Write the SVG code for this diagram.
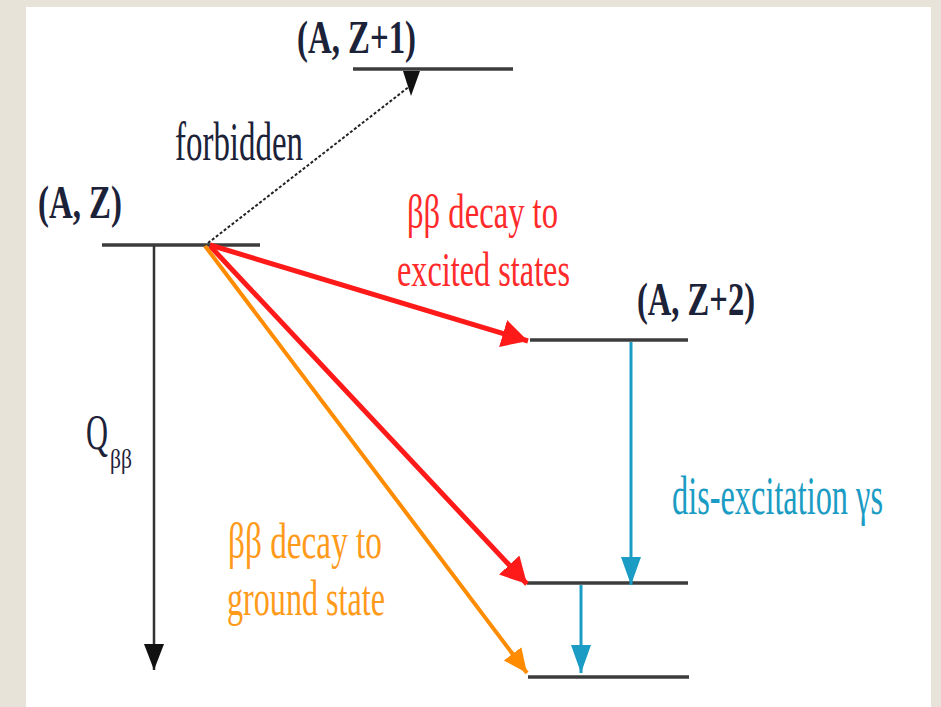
<svg xmlns="http://www.w3.org/2000/svg" width="941" height="707" viewBox="0 0 941 707">
<style>
.t{font-family:"Liberation Serif","Times New Roman",serif}
.b{font-weight:bold;fill:#1c2238}
.lvl{stroke:#3c3c3c;stroke-width:3.5;fill:none}
</style>
<defs>
<marker id="mr" markerUnits="userSpaceOnUse" markerWidth="32" markerHeight="32" refX="26" refY="14" orient="auto"><path d="M0,0 L26,14 L0,28 Z" fill="#ff1a1a"/></marker>
<marker id="mo" markerUnits="userSpaceOnUse" markerWidth="30" markerHeight="30" refX="24" refY="11" orient="auto"><path d="M0,0 L24,11 L0,22 Z" fill="#ff8c00"/></marker>
<marker id="mb" markerUnits="userSpaceOnUse" markerWidth="30" markerHeight="30" refX="28" refY="10" orient="auto"><path d="M0,0 L28,10 L0,20 Z" fill="#1a9cc4"/></marker>
<marker id="mk" markerUnits="userSpaceOnUse" markerWidth="30" markerHeight="30" refX="26" refY="10" orient="auto"><path d="M0,0 L26,10 L0,20 Z" fill="#111"/></marker>
</defs>
<rect x="0" y="0" width="941" height="707" fill="#e7e3d8"/>
<rect x="26" y="7" width="905" height="700" fill="#ffffff"/>
<g id="level-AZ1"><line class="lvl" x1="353" y1="69" x2="513" y2="69"/><text class="t b" x="297" y="53" font-size="46" textLength="119" lengthAdjust="spacingAndGlyphs">(A, Z+1)</text></g>
<g id="level-AZ"><line class="lvl" x1="102" y1="245" x2="260" y2="245"/><text class="t b" x="38" y="218" font-size="46" textLength="84" lengthAdjust="spacingAndGlyphs">(A, Z)</text></g>
<g id="level-AZ2-excited"><line class="lvl" x1="530" y1="340" x2="688" y2="340"/><text class="t b" x="637" y="315" font-size="46" textLength="118" lengthAdjust="spacingAndGlyphs">(A, Z+2)</text></g>
<g id="level-AZ2-mid"><line class="lvl" x1="527" y1="583" x2="688" y2="583"/></g>
<g id="level-AZ2-ground"><line class="lvl" x1="528" y1="677" x2="689" y2="677"/></g>
<g id="connectors">
<line x1="208" y1="243" x2="410" y2="86" stroke="#222" stroke-width="2" stroke-dasharray="3,2"/>
<polygon points="403,71 420,71 411,96" fill="#111"/>
<line x1="154" y1="246" x2="154" y2="670" stroke="#333" stroke-width="2.5" marker-end="url(#mk)"/>
<line x1="210" y1="245" x2="528" y2="341" stroke="#ff1a1a" stroke-width="5" marker-end="url(#mr)"/>
<line x1="210" y1="246" x2="527" y2="584" stroke="#ff1a1a" stroke-width="5" marker-end="url(#mr)"/>
<line x1="205" y1="246" x2="527" y2="673" stroke="#ff8c00" stroke-width="4" marker-end="url(#mo)"/>
<line x1="631" y1="342" x2="631" y2="585" stroke="#1a9cc4" stroke-width="3" marker-end="url(#mb)"/>
<line x1="581" y1="585" x2="581" y2="673" stroke="#1a9cc4" stroke-width="3" marker-end="url(#mb)"/>
</g>
<g id="labels">
<text class="t" x="175" y="160" font-size="54" fill="#1c2238" textLength="128" lengthAdjust="spacingAndGlyphs">forbidden</text>
<text class="t" transform="translate(86,449) scale(1,1.62)" font-size="31" fill="#1c2238" textLength="22" lengthAdjust="spacingAndGlyphs">Q</text>
<text class="t" transform="translate(110,468) scale(1,1.55)" font-size="18" fill="#1c2238" textLength="22" lengthAdjust="spacingAndGlyphs">ββ</text>
<text class="t" x="407" y="228" font-size="48" fill="#ff2a2a" textLength="151" lengthAdjust="spacingAndGlyphs">ββ decay to</text>
<text class="t" x="397" y="286" font-size="48" fill="#ff2a2a" textLength="173" lengthAdjust="spacingAndGlyphs">excited states</text>
<text class="t" x="228" y="558" font-size="50" fill="#ff9a1a" textLength="154" lengthAdjust="spacingAndGlyphs">ββ decay to</text>
<text class="t" x="227" y="615" font-size="50" fill="#ff9a1a" textLength="158" lengthAdjust="spacingAndGlyphs">ground state</text>
<text class="t" transform="translate(672,514) scale(1,1.5)" font-size="36" fill="#1a9cc4" textLength="211" lengthAdjust="spacingAndGlyphs">dis-excitation γs</text>
</g>
</svg>
